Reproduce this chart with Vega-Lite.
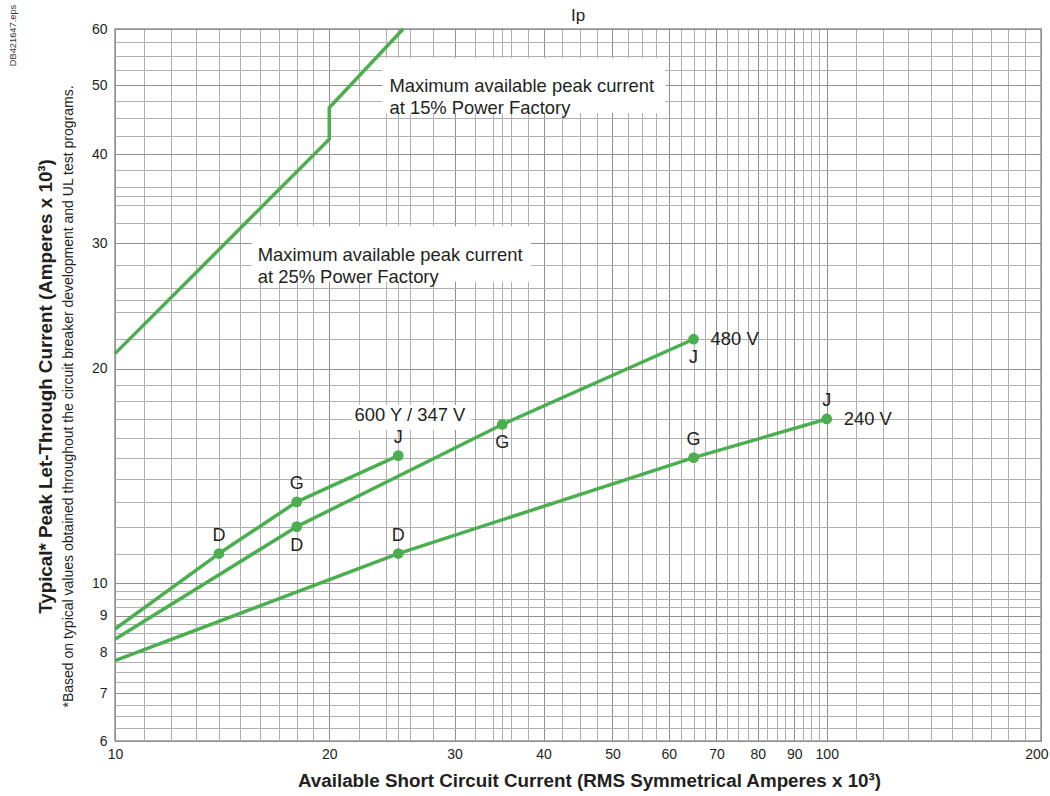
{
  "$schema": "https://vega.github.io/schema/vega-lite/v6.json",
  "width": 926,
  "height": 712,
  "autosize": {"type": "none"},
  "padding": {"left": 115, "top": 29, "right": 9, "bottom": 55},
  "background": "white",
  "config": {
    "view": {"stroke": "#959595", "strokeWidth": 1.5},
    "font": "Liberation Sans, Arial, sans-serif"
  },
  "title": {"text": "Ip", "fontSize": 17, "fontWeight": "normal", "font": "Liberation Sans", "color": "#231f20", "anchor": "middle", "frame": "group", "baseline": "alphabetic", "offset": 8, "dy": 42},
  "datasets": {
    "curves": [
      {"series": "peak", "o": 1, "x": 10, "y": 21},
      {"series": "peak", "o": 2, "x": 20, "y": 42},
      {"series": "peak", "o": 3, "x": 20, "y": 46.5},
      {"series": "peak", "o": 4, "x": 25.4, "y": 60},
      {"series": "600Y", "o": 1, "x": 10, "y": 8.62},
      {"series": "600Y", "o": 2, "x": 14, "y": 11},
      {"series": "600Y", "o": 3, "x": 18, "y": 13},
      {"series": "600Y", "o": 4, "x": 25, "y": 15.1},
      {"series": "480V", "o": 1, "x": 10, "y": 8.34},
      {"series": "480V", "o": 2, "x": 18, "y": 12},
      {"series": "480V", "o": 3, "x": 35, "y": 16.7},
      {"series": "480V", "o": 4, "x": 65, "y": 22},
      {"series": "240V", "o": 1, "x": 10, "y": 7.78},
      {"series": "240V", "o": 2, "x": 25, "y": 11},
      {"series": "240V", "o": 3, "x": 65, "y": 15},
      {"series": "240V", "o": 4, "x": 100, "y": 17}
    ],
    "pts": [
      {"series": "600Y", "x": 14, "y": 11, "letter": "D", "pos": "above"},
      {"series": "600Y", "x": 18, "y": 13, "letter": "G", "pos": "above"},
      {"series": "600Y", "x": 25, "y": 15.1, "letter": "J", "pos": "above"},
      {"series": "480V", "x": 18, "y": 12, "letter": "D", "pos": "below"},
      {"series": "480V", "x": 35, "y": 16.7, "letter": "G", "pos": "below"},
      {"series": "480V", "x": 65, "y": 22, "letter": "J", "pos": "below"},
      {"series": "240V", "x": 25, "y": 11, "letter": "D", "pos": "above"},
      {"series": "240V", "x": 65, "y": 15, "letter": "G", "pos": "above"},
      {"series": "240V", "x": 100, "y": 17, "letter": "J", "pos": "above"}
    ],
    "serieslabels": [
      {"x": 65, "y": 22, "text": "480 V"},
      {"x": 100, "y": 17, "text": "240 V"}
    ],
    "notes": [
      {"x": 24.3, "y": 49.9, "text": "Maximum available peak current\nat 15% Power Factory"},
      {"x": 15.87, "y": 28.9, "text": "Maximum available peak current\nat 25% Power Factory"},
      {"x": 21.7, "y": 17.2, "text": "600 Y / 347 V"}
    ],
    "boxes": [
      {"x": 23.76, "x2": 59.4, "y": 54.6, "y2": 45.7},
      {"x": 15.56, "x2": 38.4, "y": 31.7, "y2": 26.5},
      {"x": 21.5, "x2": 31.6, "y": 17.8, "y2": 16.4}
    ]
  },
  "layer": [
    {
      "encoding": {
        "x": {
          "field": "x", "type": "quantitative",
          "scale": {"type": "log", "domain": [10, 200], "nice": false},
          "axis": {
            "values": [10,11,12,13,14,15,16,17,18,19,20,22,24,25,26,28,30,32,34,35,36,38,40,42.5,45,47.5,50,52.5,55,57.5,60,62.5,65,67.5,70,72.5,75,77.5,80,82.5,85,87.5,90,92.5,95,97.5,100,110,120,130,140,150,160,170,180,190,200],
            "labelExpr": "indexof([10,20,30,40,50,60,70,80,90,100,200], datum.value) >= 0 ? toString(datum.value) : ''",
            "grid": true,
            "gridColor": {"condition": {"test": "indexof([10,20,30,40,50,60,70,80,90,100,200], datum.value) >= 0", "value": "#8f8f8f"}, "value": "#b0b0b0"},
            "gridWidth": 1,
            "ticks": false,
            "domain": false,
            "labelFontSize": 14,
            "labelColor": "#231f20",
            "labelPadding": 6,
            "labelAlign": {"condition": {"test": "datum.value == 200", "value": "right"}, "value": "center"},
            "labelOffset": {"condition": {"test": "datum.value == 200", "value": 7}, "value": 0},
            "labelFlush": false,
            "labelOverlap": false,
            "labelBound": false,
            "title": "Available Short Circuit Current (RMS Symmetrical Amperes x 10³)",
            "titleFontSize": 18.8,
            "titleFontWeight": "bold",
            "titleColor": "#231f20",
            "titleX": 474,
            "titleY": 39,
            "titleAlign": "center",
            "titleBaseline": "middle"
          }
        },
        "y": {
          "field": "y", "type": "quantitative",
          "scale": {"type": "log", "domain": [6, 60], "nice": false},
          "axis": {
            "values": [6,6.25,6.5,6.75,7,7.25,7.5,7.75,8,8.25,8.5,8.75,9,9.25,9.5,9.75,10,11,12,13,14,15,16,17,18,19,20,22,24,25,26,28,30,32,34,35,36,38,40,42.5,45,47.5,50,52.5,55,57.5,60],
            "labelExpr": "indexof([6,7,8,9,10,20,30,40,50,60], datum.value) >= 0 ? toString(datum.value) : ''",
            "grid": true,
            "gridColor": {"condition": {"test": "indexof([6,7,8,9,10,20,30,40,50,60], datum.value) >= 0", "value": "#8f8f8f"}, "value": "#b0b0b0"},
            "gridWidth": 1,
            "ticks": false,
            "domain": false,
            "labelFontSize": 14,
            "labelColor": "#231f20",
            "labelPadding": 8,
            "labelOverlap": false,
            "labelBound": false,
            "title": "*Based on typical values obtained throughout the circuit breaker development and UL test programs.",
            "titleFont": "Liberation Sans Narrow, Arial Narrow, Liberation Sans",
            "titleFontSize": 14,
            "titleFontWeight": "normal",
            "titleColor": "#231f20",
            "titleX": -47,
            "titleY": 367,
            "titleAngle": 270,
            "titleAlign": "center",
            "titleBaseline": "middle"
          }
        }
      },
      "layer": [
        {
          "data": {"name": "boxes"},
          "mark": {"type": "rect", "fill": "white", "stroke": null},
          "encoding": {"x2": {"field": "x2"}, "y2": {"field": "y2"}}
        },
        {
          "data": {"name": "curves"},
          "mark": {"type": "line", "color": "#4bae4f", "strokeWidth": 3.5, "strokeJoin": "round"},
          "encoding": {"detail": {"field": "series"}, "order": {"field": "o", "type": "quantitative"}}
        },
        {
          "data": {"name": "pts"},
          "mark": {"type": "point", "filled": true, "color": "#4bae4f", "opacity": 1, "size": 115},
          "encoding": {}
        },
        {
          "data": {"name": "pts"},
          "transform": [{"filter": "datum.pos == 'above'"}],
          "mark": {"type": "text", "fontSize": 18, "color": "#231f20", "baseline": "middle", "align": "center", "dy": -18},
          "encoding": {"text": {"field": "letter"}}
        },
        {
          "data": {"name": "pts"},
          "transform": [{"filter": "datum.pos == 'below'"}],
          "mark": {"type": "text", "fontSize": 18, "color": "#231f20", "baseline": "middle", "align": "center", "dy": 19},
          "encoding": {"text": {"field": "letter"}}
        },
        {
          "data": {"name": "serieslabels"},
          "mark": {"type": "text", "fontSize": 18.4, "color": "#231f20", "baseline": "middle", "align": "left", "dx": 17},
          "encoding": {"text": {"field": "text"}}
        },
        {
          "data": {"name": "notes"},
          "mark": {"type": "text", "fontSize": 18.4, "color": "#231f20", "baseline": "middle", "align": "left", "lineBreak": "\n", "lineHeight": 22},
          "encoding": {"text": {"field": "text"}}
        }
      ]
    },
    {
      "data": {"values": [{"v": 10}]},
      "mark": {"type": "point", "opacity": 0},
      "encoding": {
        "y": {
          "field": "v", "type": "quantitative",
          "scale": {"type": "log", "domain": [6, 60]},
          "axis": {"orient": "left", "labels": false, "ticks": false, "domain": false, "grid": false,
            "title": "Typical* Peak Let-Through Current (Amperes x 10³)",
            "titleX": -70, "titleY": 357, "titleAngle": 270, "titleAlign": "center", "titleBaseline": "middle",
            "titleFontSize": 18.8, "titleFontWeight": "bold", "titleColor": "#231f20"}
        }
      }
    },
    {
      "data": {"values": [{"v": 10}]},
      "mark": {"type": "point", "opacity": 0},
      "encoding": {
        "y": {
          "field": "v", "type": "quantitative",
          "scale": {"type": "log", "domain": [6, 60]},
          "axis": {"orient": "left", "labels": false, "ticks": false, "domain": false, "grid": false,
            "title": "DB421647.eps",
            "titleX": -103, "titleY": 6, "titleAngle": 270, "titleAlign": "center", "titleBaseline": "middle",
            "titleFont": "Liberation Sans Narrow, Arial Narrow, Liberation Sans",
            "titleFontSize": 9.3, "titleFontWeight": "normal", "titleColor": "#333333"}
        }
      }
    }
  ],
  "resolve": {"scale": {"y": "independent"}}
}
